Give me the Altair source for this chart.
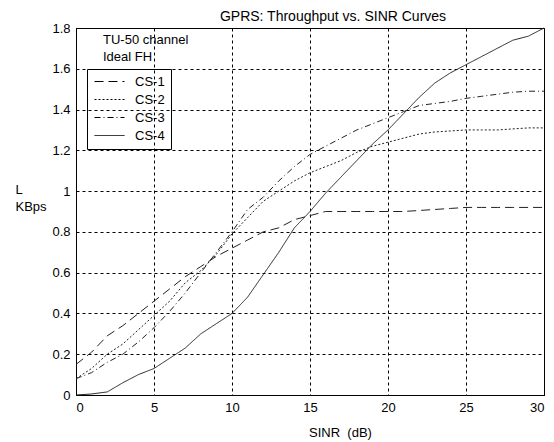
import altair as alt
import pandas as pd

sinr = list(range(0, 31))
cs1 = [0.15, 0.21, 0.29, 0.34, 0.40, 0.46, 0.52, 0.58, 0.63, 0.68, 0.72, 0.76, 0.80, 0.82, 0.86, 0.88,
       0.90, 0.90, 0.90, 0.90, 0.90, 0.90, 0.905, 0.91, 0.915, 0.92, 0.92, 0.92, 0.92, 0.92, 0.92]
cs2 = [0.08, 0.13, 0.20, 0.25, 0.32, 0.39, 0.46, 0.55, 0.61, 0.69, 0.79, 0.87, 0.95, 1.00, 1.05, 1.09,
       1.12, 1.15, 1.19, 1.22, 1.24, 1.26, 1.28, 1.29, 1.295, 1.30, 1.30, 1.30, 1.305, 1.31, 1.31]
cs3 = [0.08, 0.11, 0.16, 0.20, 0.26, 0.33, 0.41, 0.50, 0.60, 0.70, 0.80, 0.91, 0.97, 1.05, 1.12, 1.18,
       1.22, 1.26, 1.30, 1.33, 1.36, 1.39, 1.42, 1.43, 1.44, 1.455, 1.465, 1.475, 1.485, 1.49, 1.49]
cs4 = [0.0, 0.005, 0.015, 0.06, 0.10, 0.13, 0.18, 0.23, 0.30, 0.35, 0.40, 0.48, 0.59, 0.70, 0.82, 0.90,
       0.99, 1.07, 1.15, 1.23, 1.30, 1.38, 1.46, 1.53, 1.58, 1.62, 1.66, 1.70, 1.74, 1.76, 1.80]
schemes = ["CS-1", "CS-2", "CS-3", "CS-4"]
note_lines = ["TU-50 channel", "Ideal FH"]

rows = []
for name, vals in zip(schemes, [cs1, cs2, cs3, cs4]):
    for s, v in zip(sinr, vals):
        rows.append({"SINR": s, "Throughput": v, "Scheme": name})
df = pd.DataFrame(rows)

FONT = "Liberation Sans"

lines = alt.Chart(df).mark_line(strokeWidth=1, color="#222222").encode(
    x=alt.X("SINR:Q", scale=alt.Scale(domain=[0, 30], nice=False),
            axis=alt.Axis(values=[0, 5, 10, 15, 20, 25, 30], title="SINR\u00a0 (dB)",
                          titleX=264, titleY=37, titleBaseline="middle", titleAlign="center")),
    y=alt.Y("Throughput:Q", scale=alt.Scale(domain=[0, 1.8], nice=False),
            axis=alt.Axis(values=[0, 0.2, 0.4, 0.6, 0.8, 1, 1.2, 1.4, 1.6, 1.8],
                          format="~g", title=["L", "KBps"], titleAngle=0,
                          titleX=-61, titleY=155, titleAlign="left", titleBaseline="top",
                          titleLineHeight=17)),
    strokeDash=alt.StrokeDash("Scheme:N",
                              scale=alt.Scale(domain=schemes,
                                              range=[[9, 5], [2, 2], [6, 3, 1, 3], [1, 0]]),
                              legend=alt.Legend(title=None, orient="none", legendX=11, legendY=41,
                                                strokeColor="black", padding=6,
                                                symbolType="M-1,0H5", symbolSize=100,
                                                symbolStrokeWidth=1, symbolStrokeColor="black",
                                                labelFontSize=13, labelFont=FONT, labelColor="black",
                                                rowPadding=4, labelOffset=29)),
    detail="Scheme:N",
)

note = alt.Chart(pd.DataFrame({"t": [note_lines]})).mark_text(
    align="left", baseline="middle", font=FONT, fontSize=13, lineHeight=17, color="black"
).encode(x=alt.value(27), y=alt.value(12), text="t")

chart = alt.layer(lines, note).properties(
    width=468, height=367,
    background="white",
    title=alt.TitleParams("GPRS: Throughput vs. SINR Curves", fontSize=14, font=FONT,
                          fontWeight="normal", color="black", offset=0, dx=23, dy=2),
    autosize=alt.AutoSizeParams(type="none"),
    padding={"left": 68, "top": 20, "right": 2, "bottom": 46},
).configure_view(stroke="black", strokeWidth=1).configure_axis(
    domainColor="black", gridColor="black", gridDash=[3, 3], gridOpacity=1, gridWidth=1,
    tickSize=0, labelPadding=6, labelFont=FONT, labelFontSize=13, labelColor="black",
    titleFont=FONT, titleFontSize=13, titleFontWeight="normal", titleColor="black",
)

chart.save("out.html", embed_options={"renderer": "svg", "actions": False})
